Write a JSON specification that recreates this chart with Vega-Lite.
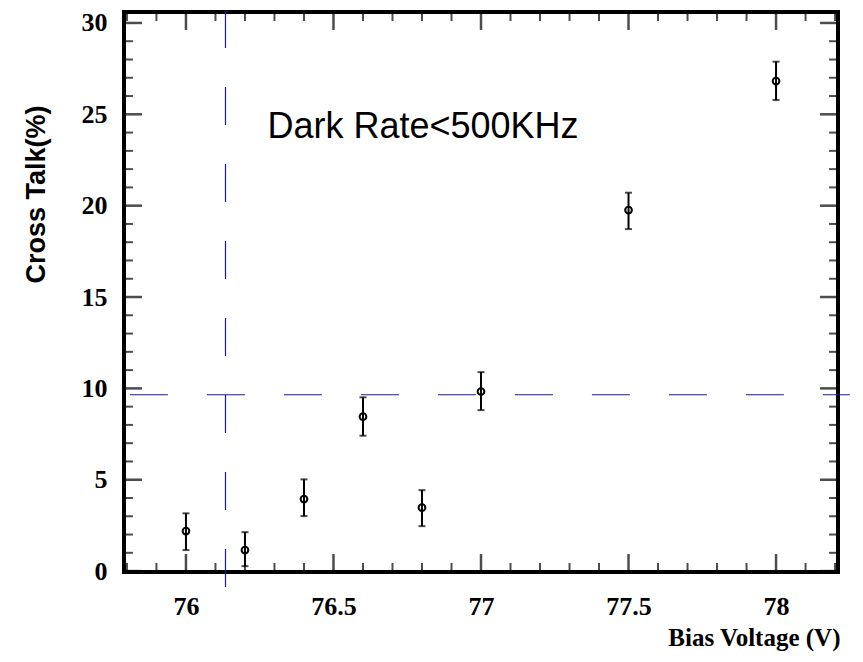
{
  "$schema": "https://vega.github.io/schema/vega-lite/v6.json",
  "width": 714,
  "height": 560,
  "autosize": "none",
  "padding": {"left": 124, "top": 12, "right": 25, "bottom": 90},
  "background": "white",
  "config": {
    "view": {"stroke": "black", "strokeWidth": 4},
    "axis": {"grid": false}
  },
  "datasets": {
    "pts": [
      {"v": 76.0, "ct": 2.19, "lo": 1.15, "hi": 3.16},
      {"v": 76.2, "ct": 1.15, "lo": 0.27, "hi": 2.13},
      {"v": 76.4, "ct": 3.94, "lo": 3.01, "hi": 5.02},
      {"v": 76.6, "ct": 8.45, "lo": 7.41, "hi": 9.51},
      {"v": 76.8, "ct": 3.47, "lo": 2.46, "hi": 4.43},
      {"v": 77.0, "ct": 9.83, "lo": 8.81, "hi": 10.89},
      {"v": 77.5, "ct": 19.76, "lo": 18.72, "hi": 20.71},
      {"v": 78.0, "ct": 26.82, "lo": 25.78, "hi": 27.88}
    ],
    "xmajor": [{"v": 76}, {"v": 76.5}, {"v": 77}, {"v": 77.5}, {"v": 78}],
    "xminor": [{"v": 75.8}, {"v": 75.9}, {"v": 76.1}, {"v": 76.2}, {"v": 76.3}, {"v": 76.4}, {"v": 76.6}, {"v": 76.7}, {"v": 76.8}, {"v": 76.9}, {"v": 77.1}, {"v": 77.2}, {"v": 77.3}, {"v": 77.4}, {"v": 77.6}, {"v": 77.7}, {"v": 77.8}, {"v": 77.9}, {"v": 78.1}, {"v": 78.2}],
    "ymajor": [{"c": 0}, {"c": 5}, {"c": 10}, {"c": 15}, {"c": 20}, {"c": 25}, {"c": 30}],
    "yminor": [{"c": 1}, {"c": 2}, {"c": 3}, {"c": 4}, {"c": 6}, {"c": 7}, {"c": 8}, {"c": 9}, {"c": 11}, {"c": 12}, {"c": 13}, {"c": 14}, {"c": 16}, {"c": 17}, {"c": 18}, {"c": 19}, {"c": 21}, {"c": 22}, {"c": 23}, {"c": 24}, {"c": 26}, {"c": 27}, {"c": 28}, {"c": 29}],
    "vline": [{"v": 76.134, "lo": -0.87, "hi": 30.6}],
    "hline": [{"ct": 9.65, "a": 75.81, "b": 78.25}],
    "note": [{"v": 76.276, "ct": 23.7, "label": "Dark Rate<500KHz"}]
  },
  "layer": [
    {
      "data": {"name": "pts"},
      "mark": {"type": "point", "shape": "circle", "filled": false, "color": "black", "size": 45, "strokeWidth": 2, "opacity": 1},
      "encoding": {
        "x": {"field": "v", "type": "quantitative", "scale": {"domain": [75.79, 78.21], "nice": false, "zero": false},
          "axis": {"orient": "bottom", "ticks": false, "domain": false, "values": [76, 76.5, 77, 77.5, 78], "format": "~g",
            "labelFont": "Liberation Serif", "labelFontWeight": "bold", "labelFontSize": 26, "labelColor": "black",
            "labelPadding": 42, "labelBaseline": "alphabetic",
            "title": "Bias Voltage (V)", "titleFont": "Liberation Serif", "titleFontWeight": "bold", "titleFontSize": 25, "titleColor": "black",
            "titleAnchor": null, "titleAlign": "right", "titleBaseline": "alphabetic", "titleX": 716, "titleY": 73}},
        "y": {"field": "ct", "type": "quantitative", "scale": {"domain": [-0.05, 30.6], "nice": false, "zero": false},
          "axis": {"orient": "left", "ticks": false, "domain": false, "values": [0, 5, 10, 15, 20, 25, 30], "format": "d",
            "labelFont": "Liberation Serif", "labelFontWeight": "bold", "labelFontSize": 26, "labelColor": "black",
            "labelPadding": 17, "labelBaseline": "middle",
            "title": "Cross Talk(%)", "titleFont": "Liberation Sans", "titleFontWeight": "bold", "titleFontSize": 27, "titleColor": "black",
            "titleAngle": -90, "titleAnchor": null, "titleAlign": "center", "titleBaseline": "alphabetic", "titleX": -80, "titleY": 182}}
      }
    },
    {
      "data": {"name": "xmajor"},
      "mark": {"type": "tick", "orient": "vertical", "color": "black", "size": 18, "thickness": 2.5},
      "encoding": {
        "x": {"field": "v", "type": "quantitative", "scale": {"domain": [75.79, 78.21], "nice": false, "zero": false}},
        "y": {"datum": 0.44, "type": "quantitative", "scale": {"domain": [-0.05, 30.6], "nice": false, "zero": false}}
      }
    },
    {
      "data": {"name": "xminor"},
      "mark": {"type": "tick", "orient": "vertical", "color": "black", "size": 9, "thickness": 2},
      "encoding": {
        "x": {"field": "v", "type": "quantitative", "scale": {"domain": [75.79, 78.21], "nice": false, "zero": false}},
        "y": {"datum": 0.196, "type": "quantitative", "scale": {"domain": [-0.05, 30.6], "nice": false, "zero": false}}
      }
    },
    {
      "data": {"name": "xmajor"},
      "mark": {"type": "tick", "orient": "vertical", "color": "black", "size": 18, "thickness": 2.5},
      "encoding": {
        "x": {"field": "v", "type": "quantitative", "scale": {"domain": [75.79, 78.21], "nice": false, "zero": false}},
        "y": {"datum": 30.11, "type": "quantitative", "scale": {"domain": [-0.05, 30.6], "nice": false, "zero": false}}
      }
    },
    {
      "data": {"name": "xminor"},
      "mark": {"type": "tick", "orient": "vertical", "color": "black", "size": 9, "thickness": 2},
      "encoding": {
        "x": {"field": "v", "type": "quantitative", "scale": {"domain": [75.79, 78.21], "nice": false, "zero": false}},
        "y": {"datum": 30.354, "type": "quantitative", "scale": {"domain": [-0.05, 30.6], "nice": false, "zero": false}}
      }
    },
    {
      "data": {"name": "ymajor"},
      "mark": {"type": "tick", "orient": "horizontal", "color": "black", "size": 18, "thickness": 2.5},
      "encoding": {
        "y": {"field": "c", "type": "quantitative", "scale": {"domain": [-0.05, 30.6], "nice": false, "zero": false}},
        "x": {"datum": 75.8205, "type": "quantitative", "scale": {"domain": [75.79, 78.21], "nice": false, "zero": false}}
      }
    },
    {
      "data": {"name": "yminor"},
      "mark": {"type": "tick", "orient": "horizontal", "color": "black", "size": 9, "thickness": 2},
      "encoding": {
        "y": {"field": "c", "type": "quantitative", "scale": {"domain": [-0.05, 30.6], "nice": false, "zero": false}},
        "x": {"datum": 75.805, "type": "quantitative", "scale": {"domain": [75.79, 78.21], "nice": false, "zero": false}}
      }
    },
    {
      "data": {"name": "ymajor"},
      "mark": {"type": "tick", "orient": "horizontal", "color": "black", "size": 18, "thickness": 2.5},
      "encoding": {
        "y": {"field": "c", "type": "quantitative", "scale": {"domain": [-0.05, 30.6], "nice": false, "zero": false}},
        "x": {"datum": 78.1795, "type": "quantitative", "scale": {"domain": [75.79, 78.21], "nice": false, "zero": false}}
      }
    },
    {
      "data": {"name": "yminor"},
      "mark": {"type": "tick", "orient": "horizontal", "color": "black", "size": 9, "thickness": 2},
      "encoding": {
        "y": {"field": "c", "type": "quantitative", "scale": {"domain": [-0.05, 30.6], "nice": false, "zero": false}},
        "x": {"datum": 78.195, "type": "quantitative", "scale": {"domain": [75.79, 78.21], "nice": false, "zero": false}}
      }
    },
    {
      "data": {"name": "vline"},
      "mark": {"type": "rule", "color": "#1a1a9c", "strokeWidth": 1.2, "strokeDash": [38, 39], "clip": false},
      "encoding": {
        "x": {"field": "v", "type": "quantitative", "scale": {"domain": [75.79, 78.21], "nice": false, "zero": false}},
        "y": {"field": "lo", "type": "quantitative", "scale": {"domain": [-0.05, 30.6], "nice": false, "zero": false}},
        "y2": {"field": "hi"}
      }
    },
    {
      "data": {"name": "hline"},
      "mark": {"type": "rule", "color": "#1a1a9c", "strokeWidth": 1.2, "strokeDash": [38, 39], "clip": false},
      "encoding": {
        "y": {"field": "ct", "type": "quantitative", "scale": {"domain": [-0.05, 30.6], "nice": false, "zero": false}},
        "x": {"field": "a", "type": "quantitative", "scale": {"domain": [75.79, 78.21], "nice": false, "zero": false}},
        "x2": {"field": "b"}
      }
    },
    {
      "data": {"name": "pts"},
      "mark": {"type": "rule", "color": "black", "strokeWidth": 2},
      "encoding": {
        "x": {"field": "v", "type": "quantitative", "scale": {"domain": [75.79, 78.21], "nice": false, "zero": false}},
        "y": {"field": "lo", "type": "quantitative", "scale": {"domain": [-0.05, 30.6], "nice": false, "zero": false}},
        "y2": {"field": "hi"}
      }
    },
    {
      "data": {"name": "pts"},
      "mark": {"type": "tick", "orient": "horizontal", "color": "black", "size": 7, "thickness": 2},
      "encoding": {
        "x": {"field": "v", "type": "quantitative", "scale": {"domain": [75.79, 78.21], "nice": false, "zero": false}},
        "y": {"field": "lo", "type": "quantitative", "scale": {"domain": [-0.05, 30.6], "nice": false, "zero": false}}
      }
    },
    {
      "data": {"name": "pts"},
      "mark": {"type": "tick", "orient": "horizontal", "color": "black", "size": 7, "thickness": 2},
      "encoding": {
        "x": {"field": "v", "type": "quantitative", "scale": {"domain": [75.79, 78.21], "nice": false, "zero": false}},
        "y": {"field": "hi", "type": "quantitative", "scale": {"domain": [-0.05, 30.6], "nice": false, "zero": false}}
      }
    },
    {
      "data": {"name": "note"},
      "mark": {"type": "text", "font": "Liberation Sans", "fontSize": 36, "color": "black", "align": "left", "baseline": "alphabetic"},
      "encoding": {
        "x": {"field": "v", "type": "quantitative", "scale": {"domain": [75.79, 78.21], "nice": false, "zero": false}},
        "y": {"field": "ct", "type": "quantitative", "scale": {"domain": [-0.05, 30.6], "nice": false, "zero": false}},
        "text": {"field": "label"}
      }
    }
  ]
}
